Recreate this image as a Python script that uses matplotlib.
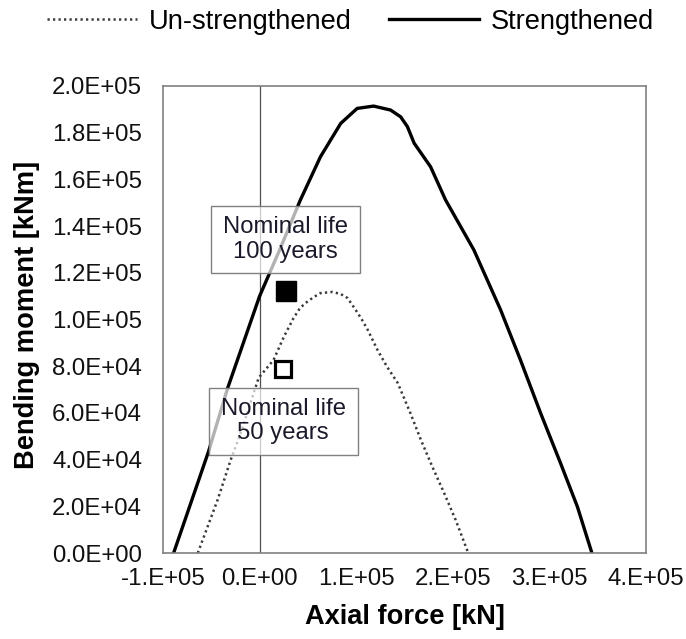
import matplotlib
matplotlib.use('Agg')
import matplotlib.pyplot as plt
from matplotlib.ticker import FuncFormatter
from matplotlib.patches import Rectangle

plt.rcParams['font.family'] = ['Liberation Sans', 'DejaVu Sans']

############# data #####################################
# strengthened interaction curve, N [kN], M [kNm]
n_str = [-0.89e5, -0.53e5, -0.33e5, 0.0, 0.22e5, 0.42e5, 0.63e5, 0.84e5, 1.01e5, 1.18e5,
         1.356e5, 1.46e5, 1.53e5, 1.60e5, 1.77e5, 1.925e5, 2.218e5, 2.495e5, 2.70e5,
         2.91e5, 3.116e5, 3.29e5, 3.44e5]
m_str = [0.0, 0.433e5, 0.707e5, 1.10e5, 1.31e5, 1.51e5, 1.697e5, 1.840e5, 1.904e5, 1.914e5,
         1.897e5, 1.868e5, 1.826e5, 1.755e5, 1.654e5, 1.512e5, 1.298e5, 1.041e5, 0.827e5,
         0.598e5, 0.384e5, 0.198e5, 0.0]
# un-strengthened interaction curve
n_uns = [-0.64e5, -0.435e5, -0.30e5, -0.197e5, -0.01e5, 0.145e5, 0.25e5, 0.35e5, 0.42e5,
         0.49e5, 0.56e5, 0.63e5, 0.756e5, 0.84e5, 0.91e5, 0.98e5, 1.05e5, 1.12e5, 1.22e5,
         1.32e5, 1.43e5, 1.56e5, 1.67e5, 1.79e5, 1.91e5, 2.03e5, 2.16e5]
m_uns = [0.0, 0.227e5, 0.398e5, 0.513e5, 0.75e5, 0.827e5, 0.925e5, 1.005e5, 1.05e5,
         1.075e5, 1.096e5, 1.113e5, 1.118e5, 1.109e5, 1.092e5, 1.05e5, 1.006e5, 0.955e5, 0.87e5,
         0.797e5, 0.728e5, 0.60e5, 0.484e5, 0.368e5, 0.257e5, 0.141e5, 0.0]
# design points
n_100, m_100 = 0.27e5, 1.12e5
n_50, m_50 = 0.243e5, 0.79e5
lbl_100 = 'Nominal life\n100 years'
lbl_50 = 'Nominal life\n50 years'
box_100 = (0.264e5, 1.343e5)
box_50 = (0.243e5, 0.565e5)
box_w, box_h = 1.543e5, 0.287e5
########################################################

fig = plt.figure(figsize=(6.86, 6.39), dpi=100)
ax = fig.add_axes([163/686, 1-553/639, 483/686, 467/639])

ax.set_xlim(-1e5, 4e5)
ax.set_ylim(0, 2e5)
ax.set_xticks([-1e5, 0, 1e5, 2e5, 3e5, 4e5])
ax.set_yticks([i*2e4 for i in range(11)])
ax.xaxis.set_major_formatter(FuncFormatter(lambda v, p: '%#.0E' % v))
ax.yaxis.set_major_formatter(FuncFormatter(lambda v, p: '%.1E' % v))
ax.tick_params(length=0, labelsize=17.3, labelcolor='#111111')
ax.tick_params(axis='x', pad=11)
ax.tick_params(axis='y', pad=15)
for s in ax.spines.values():
    s.set_color('#808080')
    s.set_linewidth(1.2)

ax.axvline(0, color='#505050', lw=0.9, zorder=1)

ax.plot(n_uns, m_uns, color='#3a3a3a', lw=1.8, linestyle=(0, (0.9, 1.3)),
        label='Un-strengthened', zorder=2)
ax.plot(n_str, m_str, color='black', lw=2.4, label='Strengthened', zorder=2)

for (cx, cy), txt in [(box_100, lbl_100), (box_50, lbl_50)]:
    ax.add_patch(Rectangle((cx - box_w/2, cy - box_h/2), box_w, box_h, facecolor='white',
                           alpha=0.7, edgecolor='none', zorder=3))
    ax.add_patch(Rectangle((cx - box_w/2, cy - box_h/2), box_w, box_h, facecolor='none',
                           edgecolor='#808080', lw=1.0, zorder=3))
    ax.text(cx, cy, txt, ha='center', va='center', fontsize=17.2, color='#1a1a2a',
            linespacing=1.15, zorder=4)

ax.plot([n_100], [m_100], 's', color='black', ms=14.5, zorder=5)
ax.plot([n_50], [m_50], 's', mfc='white', mec='black', mew=2.3, ms=11.8, zorder=5)

fig.text(405/686, 1-617/639, 'Axial force [kN]', ha='center', va='center',
         fontsize=19.6, fontweight='bold')
fig.text(27/686, 1-315/639, 'Bending moment [kNm]', ha='center', va='center',
         rotation=90, fontsize=19.6, fontweight='bold')

fig.legend(loc='center', bbox_to_anchor=(350.5/686, 1-22/639), ncol=2, frameon=False,
           fontsize=19.6, handlelength=3.3, handletextpad=0.44, columnspacing=1.39,
           borderaxespad=0)

fig.savefig('out.png', dpi=100)
